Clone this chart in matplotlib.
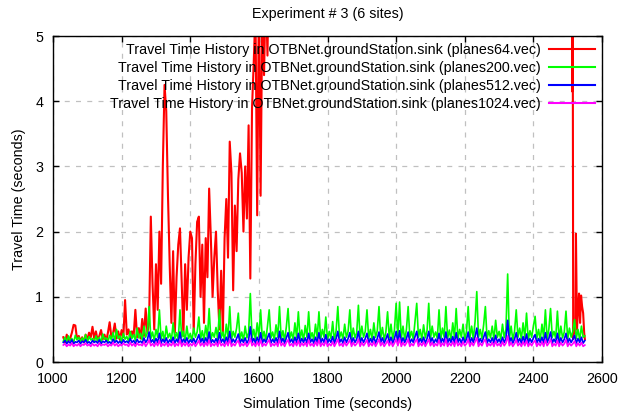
import numpy as np
import matplotlib
matplotlib.use("Agg")
import matplotlib.pyplot as plt

plt.rcParams['font.family'] = ['Liberation Sans', 'DejaVu Sans']

# sampled travel times, one value every 5 s starting at 1030 s
t_start = 1030
t_step = 5

red_early = [
    0.38, 0.3, 0.42, 0.33, 0.36, 0.45, 0.57, 0.56, 0.35, 0.4,
    0.32, 0.38, 0.3, 0.42, 0.34, 0.45, 0.38, 0.54, 0.36, 0.47,
    0.33, 0.4, 0.49, 0.35, 0.42, 0.32, 0.45, 0.61, 0.38, 0.44,
    0.59, 0.36, 0.47, 0.34, 0.49, 0.38, 0.95, 0.42, 0.5, 0.36,
    0.47, 0.4, 0.8, 0.38, 0.52, 0.36, 0.66, 0.4, 0.82, 0.45,
    0.6, 2.23, 1.2, 0.5, 1.5, 0.8, 2.0, 1.2, 3.0, 4.25,
    3.85, 2.55, 1.5, 0.6, 1.7, 0.45, 1.3, 1.8, 2.05, 1.2,
    0.4, 1.5, 0.8, 1.6, 2.0, 1.9, 0.45, 1.5, 2.15, 2.23,
    1.0, 1.8, 0.6, 1.9, 1.3, 2.66, 1.9, 1.0, 1.6, 2.0,
    1.1, 0.5, 1.4, 0.45, 1.9, 2.5, 1.6, 3.38, 2.9, 1.1,
    2.4, 1.7, 2.8, 3.2, 2.9, 2.0, 3.0, 2.2, 3.63, 1.28,
    3.9, 4.6, 5.4, 2.25, 5.6, 2.55, 5.5, 4.4, 5.8, 4.7,
    6.5, 5.2, 8.0,
]
# off the top of the chart, then the recovery near the end
red_late_t = [1700, 2000, 2300, 2512, 2513, 2514, 2516, 2519, 2522, 2524,
              2527, 2530, 2533, 2536, 2539, 2542, 2545, 2548, 2550]
red_late_v = [9.0, 12.0, 10.0, 8.0, 4.15, 8.0, 0.35, 0.6, 0.45, 1.97,
              0.5, 0.8, 1.05, 0.6, 1.02, 0.85, 0.75, 0.45, 0.35]

green = [
    0.32, 0.38, 0.3, 0.4, 0.33, 0.36, 0.3, 0.41, 0.34, 0.38,
    0.31, 0.37, 0.33, 0.42, 0.3, 0.39, 0.34, 0.36, 0.31, 0.4,
    0.33, 0.38, 0.3, 0.43, 0.35, 0.37, 0.31, 0.41, 0.34, 0.45,
    0.32, 0.5, 0.36, 0.4, 0.31, 0.44, 0.35, 0.39, 0.32, 0.47,
    0.36, 0.42, 0.33, 0.52, 0.37, 0.44, 0.34, 0.55, 0.38, 0.45,
    0.85, 0.36, 0.46, 0.33, 0.5, 0.38, 0.8, 0.35, 0.47, 0.32,
    0.55, 0.37, 0.44, 0.33, 0.6, 0.36, 0.45, 0.34, 0.8, 0.38,
    0.47, 0.32, 0.55, 0.36, 0.44, 0.33, 0.52, 0.38, 0.46, 0.69,
    0.35, 0.48, 0.33, 0.56, 0.37, 0.82, 0.34, 0.45, 0.38, 0.53,
    0.35, 0.8, 0.37, 0.46, 0.33, 0.58, 0.36, 0.85, 0.34, 0.47,
    0.38, 0.52, 0.75, 0.35, 0.46, 0.33, 0.55, 0.37, 0.45, 1.05,
    0.36, 0.5, 0.34, 0.6, 0.38, 0.8, 0.35, 0.47, 0.33, 0.55,
    0.8, 0.37, 0.46, 0.34, 0.57, 0.38, 0.85, 0.35, 0.48, 0.33,
    0.54, 0.82, 0.36, 0.46, 0.34, 0.6, 0.37, 0.77, 0.35, 0.49,
    0.33, 0.56, 0.38, 0.77, 0.36, 0.45, 0.34, 0.58, 0.37, 0.77,
    0.35, 0.5, 0.38, 0.69, 0.34, 0.47, 0.36, 0.62, 0.33, 0.48,
    0.85, 0.37, 0.46, 0.35, 0.58, 0.38, 0.47, 0.8, 0.34, 0.52,
    0.37, 0.45, 0.87, 0.35, 0.55, 0.38, 0.47, 0.8, 0.36, 0.5,
    0.34, 0.6, 0.38, 0.48, 0.85, 0.36, 0.53, 0.34, 0.46, 0.77,
    0.37, 0.58, 0.35, 0.49, 0.9, 0.38, 0.92, 0.36, 0.55, 0.34,
    0.5, 0.85, 0.37, 0.47, 0.35, 0.62, 0.9, 0.38, 0.5, 0.34,
    0.57, 0.37, 0.48, 0.9, 0.35, 0.55, 0.38, 0.46, 0.36, 0.8,
    0.34, 0.52, 0.38, 0.85, 0.36, 0.49, 0.34, 0.6, 0.37, 0.82,
    0.35, 0.5, 0.38, 0.58, 0.34, 0.47, 0.85, 0.37, 0.55, 0.35,
    0.62, 1.08, 0.38, 0.5, 0.36, 0.57, 0.85, 0.35, 0.48, 0.37,
    0.55, 0.34, 0.64, 0.38, 0.47, 0.35, 0.58, 0.37, 0.5, 1.35,
    0.36, 0.55, 0.34, 0.47, 0.8, 0.38, 0.52, 0.35, 0.6, 0.37,
    0.75, 0.34, 0.48, 0.38, 0.55, 0.7, 0.36, 0.5, 0.34, 0.58,
    0.37, 0.8, 0.35, 0.5, 0.82, 0.38, 0.47, 0.36, 0.78, 0.34,
    0.55, 0.37, 0.46, 0.78, 0.35, 0.52, 0.38, 0.47, 0.65, 0.36,
    0.5, 0.34, 0.55, 0.38, 0.4,
]

blue = [
    0.3, 0.33, 0.28, 0.32, 0.29, 0.34, 0.28, 0.31, 0.3, 0.33,
    0.28, 0.32, 0.3, 0.34, 0.29, 0.31, 0.28, 0.33, 0.3, 0.32,
    0.29, 0.34, 0.28, 0.32, 0.3, 0.33, 0.29, 0.31, 0.28, 0.35,
    0.3, 0.33, 0.29, 0.32, 0.28, 0.34, 0.3, 0.32, 0.29, 0.36,
    0.3, 0.33, 0.28, 0.35, 0.3, 0.32, 0.29, 0.37, 0.3, 0.34,
    0.46, 0.3, 0.34, 0.29, 0.36, 0.3, 0.44, 0.29, 0.35, 0.3,
    0.37, 0.29, 0.34, 0.3, 0.38, 0.29, 0.35, 0.3, 0.46, 0.29,
    0.35, 0.3, 0.37, 0.29, 0.34, 0.3, 0.36, 0.29, 0.35, 0.42,
    0.3, 0.36, 0.29, 0.37, 0.3, 0.46, 0.29, 0.34, 0.3, 0.36,
    0.29, 0.45, 0.3, 0.35, 0.29, 0.38, 0.3, 0.47, 0.29, 0.35,
    0.3, 0.36, 0.43, 0.29, 0.35, 0.3, 0.37, 0.29, 0.34, 0.54,
    0.3, 0.36, 0.29, 0.38, 0.3, 0.45, 0.29, 0.35, 0.3, 0.37,
    0.44, 0.29, 0.35, 0.3, 0.37, 0.29, 0.47, 0.3, 0.36, 0.29,
    0.37, 0.45, 0.3, 0.35, 0.29, 0.38, 0.3, 0.44, 0.29, 0.36,
    0.3, 0.37, 0.29, 0.44, 0.3, 0.35, 0.29, 0.38, 0.3, 0.45,
    0.29, 0.36, 0.3, 0.42, 0.29, 0.35, 0.3, 0.39, 0.29, 0.36,
    0.47, 0.3, 0.35, 0.29, 0.38, 0.3, 0.36, 0.45, 0.29, 0.37,
    0.3, 0.35, 0.47, 0.29, 0.37, 0.3, 0.36, 0.44, 0.29, 0.36,
    0.3, 0.39, 0.29, 0.36, 0.46, 0.3, 0.37, 0.29, 0.35, 0.43,
    0.3, 0.38, 0.29, 0.36, 0.47, 0.3, 0.48, 0.29, 0.37, 0.3,
    0.36, 0.46, 0.29, 0.35, 0.3, 0.39, 0.47, 0.29, 0.36, 0.3,
    0.38, 0.29, 0.36, 0.47, 0.3, 0.37, 0.29, 0.35, 0.3, 0.44,
    0.29, 0.36, 0.3, 0.46, 0.29, 0.36, 0.3, 0.39, 0.29, 0.45,
    0.3, 0.36, 0.29, 0.38, 0.3, 0.35, 0.46, 0.29, 0.37, 0.3,
    0.39, 0.52, 0.29, 0.36, 0.3, 0.38, 0.46, 0.29, 0.35, 0.3,
    0.37, 0.29, 0.41, 0.3, 0.35, 0.29, 0.38, 0.3, 0.36, 0.64,
    0.3, 0.37, 0.29, 0.35, 0.45, 0.3, 0.36, 0.29, 0.39, 0.3,
    0.43, 0.29, 0.36, 0.3, 0.37, 0.42, 0.29, 0.36, 0.3, 0.38,
    0.29, 0.45, 0.3, 0.36, 0.46, 0.29, 0.35, 0.3, 0.44, 0.29,
    0.37, 0.3, 0.35, 0.44, 0.29, 0.36, 0.3, 0.35, 0.41, 0.29,
    0.36, 0.3, 0.38, 0.29, 0.33,
]

magenta = [
    0.26, 0.28, 0.24, 0.27, 0.25, 0.29, 0.24, 0.27, 0.25, 0.28,
    0.24, 0.27, 0.26, 0.29, 0.25, 0.27, 0.24, 0.28, 0.25, 0.27,
    0.24, 0.29, 0.25, 0.27, 0.26, 0.28, 0.24, 0.27, 0.25, 0.3,
    0.25, 0.28, 0.24, 0.27, 0.25, 0.29, 0.26, 0.27, 0.24, 0.3,
    0.25, 0.28, 0.24, 0.29, 0.26, 0.27, 0.25, 0.31, 0.24, 0.28,
    0.34, 0.25, 0.28, 0.24, 0.3, 0.25, 0.33, 0.24, 0.28, 0.25,
    0.3, 0.24, 0.28, 0.25, 0.31, 0.24, 0.28, 0.25, 0.34, 0.24,
    0.29, 0.25, 0.3, 0.24, 0.28, 0.25, 0.3, 0.24, 0.28, 0.33,
    0.25, 0.29, 0.24, 0.3, 0.25, 0.34, 0.24, 0.28, 0.25, 0.3,
    0.24, 0.33, 0.25, 0.28, 0.24, 0.31, 0.25, 0.35, 0.24, 0.28,
    0.25, 0.3, 0.33, 0.24, 0.28, 0.25, 0.3, 0.24, 0.28, 0.36,
    0.25, 0.29, 0.24, 0.31, 0.25, 0.34, 0.24, 0.28, 0.25, 0.3,
    0.34, 0.24, 0.28, 0.25, 0.3, 0.24, 0.35, 0.25, 0.29, 0.24,
    0.3, 0.34, 0.25, 0.28, 0.24, 0.31, 0.25, 0.33, 0.24, 0.29,
    0.25, 0.3, 0.24, 0.34, 0.25, 0.28, 0.24, 0.31, 0.25, 0.34,
    0.24, 0.29, 0.25, 0.33, 0.24, 0.28, 0.25, 0.31, 0.24, 0.29,
    0.35, 0.25, 0.28, 0.24, 0.31, 0.25, 0.29, 0.34, 0.24, 0.3,
    0.25, 0.28, 0.35, 0.24, 0.3, 0.25, 0.29, 0.34, 0.24, 0.29,
    0.25, 0.31, 0.24, 0.29, 0.35, 0.25, 0.3, 0.24, 0.28, 0.33,
    0.25, 0.31, 0.24, 0.29, 0.35, 0.25, 0.36, 0.24, 0.3, 0.25,
    0.29, 0.35, 0.24, 0.28, 0.25, 0.31, 0.35, 0.24, 0.29, 0.25,
    0.31, 0.24, 0.29, 0.35, 0.25, 0.3, 0.24, 0.28, 0.25, 0.34,
    0.24, 0.29, 0.25, 0.35, 0.24, 0.29, 0.25, 0.31, 0.24, 0.34,
    0.25, 0.29, 0.24, 0.31, 0.25, 0.28, 0.35, 0.24, 0.3, 0.25,
    0.31, 0.37, 0.24, 0.29, 0.25, 0.31, 0.35, 0.24, 0.28, 0.25,
    0.3, 0.24, 0.32, 0.25, 0.28, 0.24, 0.31, 0.25, 0.29, 0.4,
    0.25, 0.3, 0.24, 0.28, 0.34, 0.25, 0.29, 0.24, 0.31, 0.25,
    0.33, 0.24, 0.29, 0.25, 0.3, 0.33, 0.24, 0.29, 0.25, 0.31,
    0.24, 0.34, 0.25, 0.29, 0.35, 0.24, 0.28, 0.25, 0.33, 0.24,
    0.3, 0.25, 0.28, 0.34, 0.24, 0.29, 0.25, 0.28, 0.32, 0.24,
    0.29, 0.25, 0.3, 0.24, 0.26,
]

labels = [
    'Travel Time History in OTBNet.groundStation.sink (planes64.vec)',
    'Travel Time History in OTBNet.groundStation.sink (planes200.vec)',
    'Travel Time History in OTBNet.groundStation.sink (planes512.vec)',
    'Travel Time History in OTBNet.groundStation.sink (planes1024.vec)',
]
colors = ['#ff0000', '#00ff00', '#0000ff', '#ff00ff']


def times(vals):
    return t_start + t_step * np.arange(len(vals))


red_t = np.concatenate([times(red_early), red_late_t])
red_v = np.concatenate([red_early, red_late_v])

fig = plt.figure(figsize=(6.29, 4.15), dpi=100)
ax = fig.add_axes([0.0843, 0.1277, 0.8728, 0.7855])

ax.plot(red_t, red_v, color=colors[0], lw=1.5, label=labels[0])
ax.plot(times(green), green, color=colors[1], lw=1.2, label=labels[1])
ax.plot(times(blue), blue, color=colors[2], lw=1.2, label=labels[2])
ax.plot(times(magenta), magenta, color=colors[3], lw=1.2, label=labels[3])

ax.set_xlim(1000, 2600)
ax.set_ylim(0, 5)
ax.set_xticks(np.arange(1000, 2601, 200))
ax.set_yticks(np.arange(0, 5.1, 1))
ax.grid(True, color='#c0c0c0', linestyle=(0, (4, 5)), lw=0.9)
ax.set_axisbelow(True)

ax.tick_params(direction='in', length=4, width=1, top=True, right=True,
               labelsize=10.3, pad=7)
for s in ax.spines.values():
    s.set_linewidth(1)

ax.set_title('Experiment # 3 (6 sites)', fontsize=10.3, pad=13)
ax.set_xlabel('Simulation Time (seconds)', fontsize=10.3, labelpad=8)
ax.set_ylabel('Travel Time (seconds)', fontsize=10.3, labelpad=7)

leg = ax.legend(loc='upper right', frameon=False, markerfirst=False,
                fontsize=10.3, handlelength=3.2, handletextpad=0.6,
                labelspacing=0.27, borderaxespad=0.1)
for h in leg.get_lines():
    h.set_linewidth(1.5)

fig.savefig('out.png', dpi=100)
